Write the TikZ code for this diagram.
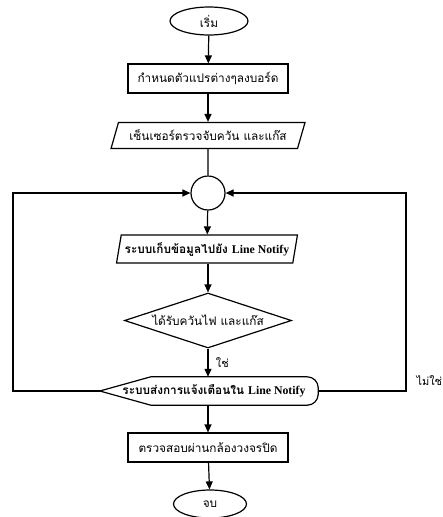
\documentclass[tikz,border=0pt]{standalone}
\usepackage{fontspec}
\setmainfont{Liberation Serif}
\newfontfamily\thaifont[Script=Thai]{Loma}
\usetikzlibrary{shapes.geometric,arrows.meta}

\tikzset{
	flow/.style={draw, line width=1.2pt, font=\thaifont\fontsize{11.8}{14}\selectfont, inner sep=1pt},
	termbox/.style={flow, ellipse, minimum width=78pt, minimum height=28pt},
	procbox/.style={flow, rectangle, minimum width=160pt, minimum height=29pt},
	iobox/.style={flow, trapezium, trapezium stretches=true, trapezium left angle=63, trapezium right angle=117},
	decbox/.style={flow, diamond, minimum width=167pt, minimum height=55pt, inner sep=0pt},
	arr/.style={line width=1.2pt, -{Triangle[length=8pt,width=7pt]}},
	plain/.style={line width=1.2pt}
}

\begin{document}
\begin{tikzpicture}[x=1pt, y=-1pt]
			\useasboundingbox (0,0) rectangle (442,517);

			% Start and set-up
			\node[termbox] (start) at (209,21) {เริ่ม};
			\node[procbox] (init) at (208,78.5) {กำหนดตัวแปรต่างๆลงบอร์ด};
			\node[iobox, minimum width=194pt, minimum height=26pt] (sensor) at (208,135.5) {เซ็นเซอร์ตรวจจับควัน และแก๊ส};

			% Junction of the loop
			\node[draw, circle, line width=1.2pt, minimum size=34pt, inner sep=0pt] (junct) at (208,193) {};

			% Loop body
			\node[iobox, trapezium left angle=74, trapezium right angle=106, minimum width=181pt, minimum height=28pt] (store) at (207,249)
				{\bfseries ระบบเก็บข้อมูลไปยัง {\rmfamily Line Notify}};
			\node[decbox, label={center:{\thaifont\fontsize{11.8}{14}\selectfont ได้รับควันไฟ และแก๊ส}}] (cond) at (208,320.5) {};

			% Display shape
			\node[font=\thaifont\fontsize{11.8}{14}\selectfont\bfseries, minimum width=218pt, minimum height=28pt, inner sep=0pt] (notify) at (209,391)
				{\hspace{10pt}ระบบส่งการแจ้งเตือนใน {\rmfamily Line Notify}};
			\draw[plain] (notify.west) -- ([xshift=51pt]notify.north west) -- ([xshift=-11pt]notify.north east)
				arc[start angle=90, end angle=0, radius=11pt] -- ([yshift=11pt]notify.south east)
				arc[start angle=0, end angle=-90, radius=11pt] -- ([xshift=51pt]notify.south west) -- cycle;

			% End
			\node[procbox] (check) at (208,447.5) {ตรวจสอบผ่านกล้องวงจรปิด};
			\node[termbox, minimum width=73pt] (stop) at (210,504) {จบ};

			% Connectors
			\coordinate (lc) at (13,193);
			\coordinate (rc) at (406,193);
			\draw[arr] (start) -- (init);
			\draw[arr] (init) -- (sensor);
			\draw[plain] (sensor) -- (junct);
			\draw[arr] (junct) -- (store);
			\draw[arr] (store.south -| cond) -- (cond);
			\draw[arr] (cond) -- node[right, font=\thaifont\fontsize{11}{13}\selectfont, xshift=4pt] (yes) {ใช่} (cond.south |- notify.north);
			\draw[arr] (notify.west) -| (lc) -- (junct);
			\draw[arr] (notify.east) -| (rc) -- (junct);
			\node[anchor=west, font=\thaifont\fontsize{11}{13}\selectfont] (no) at (413,381) {ไม่ใช่};
			\draw[arr] (cond.south |- notify.south) -- (check);
			\draw[arr] (check) -- (stop);
		\end{tikzpicture}
\end{document}
